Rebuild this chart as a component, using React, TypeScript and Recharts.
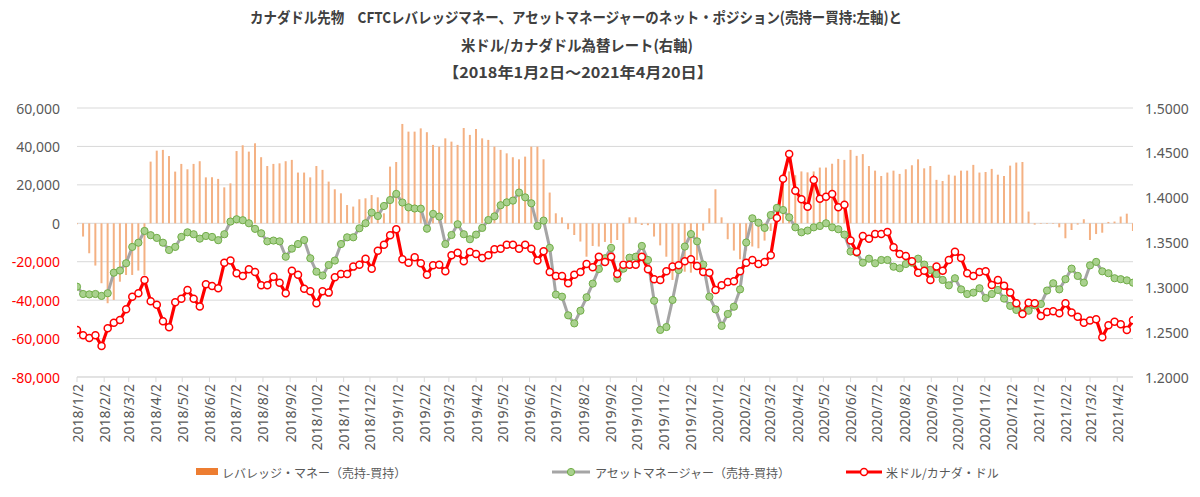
import React from 'react';
import { ComposedChart, Bar, Line, XAxis, YAxis, CartesianGrid } from 'recharts';

const NUM_FONT = '"Noto Sans", sans-serif';
const JP_FONT = '"Noto Sans CJK JP", "Noto Sans", sans-serif';

const startDate = '2018/1/2';

// CFTC leveraged money net position (short - long), weekly
const leverage = [
  -500, -6900, -15600, -22000, -31200, -41600, -39900, -30400, -26900, -26900,
  -24600, -26900, 32100, 37800, 38200, 35000, 26900, 30900, 28100, 30900,
  32300, 23900, 23900, 23100, 18700, 20800, 37600, 40600, 37300, 41600,
  34400, 29800, 30900, 31200, 32300, 33000, 26400, 26400, 23900, 29800,
  27800, 21700, 17700, 15600, 9500, 8700, 12500, 13000, 14700, 13500,
  5200, 29500, 31900, 51700, 47700, 47700, 49400, 47400, 40800, 39900,
  44200, 42500, 40800, 49600, 46000, 49100, 44200, 43400, 39900, 38200,
  36400, 34400, 33300, 34700, 39900, 39900, 33300, 16000, 5200, 3100,
  -3100, -6100, -9500, -17400, -11800, -12100, -9700, -10400, -8700, -19100,
  3100, 3100, -900, -1000, -6900, -11500, -17400, -29500, -26000, -25200,
  -25700, -19100, -3800, 7800, 17700, 3100, -8300, -14200, -18700, -14200,
  -12100, -13000, -9000, -4000, 7000, 24000, 27000, 25000, 27000, 26500,
  27000, 29000, 29000, 31000, 33500, 33000, 38200, 35100, 36000, 29800,
  27400, 24600, 26400, 27400, 25700, 28100, 30200, 33300, 28600, 29800,
  22600, 22000, 25300, 24800, 27400, 27400, 30400, 26400, 26700, 28300,
  25300, 24600, 30000, 31600, 31900, 6100, -700, -300, -300, -300,
  -2100, -7800, -3500, -700, 2100, -8700, -5600, -4900, 700, 900,
  3500, 5000, -4000,
];

// CFTC asset manager net position (short - long), weekly
const assetManager = [
  -33000, -36800, -37000, -36800, -37800, -36400, -25700, -24600, -20800, -12300,
  -10100, -4000, -6200, -7600, -10100, -13900, -12300, -7100, -4700, -5700,
  -8000, -6600, -7100, -8800, -5700, 900, 2100, 1600, 0, -2900,
  -5200, -9400, -9000, -9400, -17400, -13200, -10800, -8700, -18200, -25200,
  -27200, -21700, -19400, -10800, -7300, -7300, -2600, 0, 5600, 3800,
  9000, 12100, 15300, 10800, 8300, 7700, 7600, -2800, 4900, 3500,
  -10800, -6100, -500, -5700, -8300, -5900, -2400, 1700, 3600, 9400,
  10900, 11800, 16000, 13500, 10400, -1400, 1400, -12800, -37100, -38200,
  -47900, -52100, -45500, -38500, -31400, -23800, -18200, -12800, -28800, -23600,
  -17900, -17400, -11800, -19100, -40300, -55500, -54000, -39900, -24300, -12100,
  -5600, -9400, -21500, -38200, -44800, -53400, -47200, -43400, -34400, -10000,
  2600, 300, -2400, 4300, 8000, 6900, 3100, -2100, -4700, -3800,
  -2100, -1400, 0, -2100, -3100, -5900, -14700, -15300, -20500, -18400,
  -20800, -19100, -19100, -22600, -23400, -21200, -20500, -18400, -21500, -24300,
  -26400, -29500, -32300, -28600, -34400, -36800, -36100, -33800, -38900, -36800,
  -34700, -39200, -43000, -45100, -46800, -45500, -42700, -42000, -35000, -31200,
  -34400, -29100, -23600, -27400, -30900, -21900, -20100, -25000, -26000, -28600,
  -29100, -29700, -30900,
];

// USD/CAD rate, weekly
const usdcad = [
  1.2524, 1.2465, 1.2435, 1.2465, 1.2346, 1.2543, 1.2606, 1.2636, 1.2755, 1.2896,
  1.2933, 1.3082, 1.2844, 1.2807, 1.2621, 1.2554, 1.2833, 1.2874, 1.2971, 1.2874,
  1.2785, 1.3034, 1.3015, 1.2989, 1.3275, 1.3298, 1.3156, 1.3127, 1.3201, 1.3171,
  1.3023, 1.3023, 1.3119, 1.3052, 1.2933, 1.3186, 1.3141, 1.2985, 1.2956, 1.2822,
  1.2956, 1.2941, 1.3112, 1.3149, 1.3149, 1.3231, 1.3253, 1.332, 1.3208, 1.3409,
  1.3476, 1.358, 1.3647, 1.3312, 1.3275, 1.3335, 1.3268, 1.3141, 1.3246, 1.3253,
  1.3179, 1.3357, 1.3387, 1.329, 1.3394, 1.3372, 1.3327, 1.3357, 1.3424, 1.3431,
  1.3476, 1.3476, 1.3431, 1.3476, 1.3431, 1.3298, 1.3402, 1.3171, 1.3127, 1.3127,
  1.3045, 1.3141, 1.3171, 1.326, 1.3223, 1.3342, 1.3283, 1.3342, 1.3149, 1.3253,
  1.3253, 1.3253, 1.3342, 1.3201, 1.3089, 1.3082, 1.3179, 1.3231, 1.3246, 1.329,
  1.3312, 1.3238, 1.3171, 1.3164, 1.2971, 1.3023, 1.306, 1.3067, 1.3179, 1.3275,
  1.3305, 1.326, 1.3283, 1.3357, 1.3773, 1.4212, 1.4487, 1.4078, 1.3982, 1.39,
  1.4197, 1.3989, 1.4011, 1.4041, 1.3892, 1.3922, 1.3521, 1.3394, 1.3573, 1.3543,
  1.3595, 1.3595, 1.3617, 1.3446, 1.3372, 1.335, 1.329, 1.3164, 1.3186, 1.3082,
  1.3231, 1.3186, 1.3305, 1.3398, 1.3327, 1.3156, 1.3127, 1.3171, 1.3179, 1.3026,
  1.3082, 1.3019, 1.2941, 1.2822, 1.2703, 1.2829, 1.2822, 1.2681, 1.2725, 1.2733,
  1.271, 1.2822, 1.2718, 1.2673, 1.2606, 1.2629, 1.2643, 1.2443, 1.2577, 1.2617,
  1.2588, 1.2525, 1.2632,
];

const monthLabels = [
  '2018/1/2', '2018/2/2', '2018/3/2', '2018/4/2', '2018/5/2', '2018/6/2', '2018/7/2', '2018/8/2',
  '2018/9/2', '2018/10/2', '2018/11/2', '2018/12/2', '2019/1/2', '2019/2/2', '2019/3/2', '2019/4/2',
  '2019/5/2', '2019/6/2', '2019/7/2', '2019/8/2', '2019/9/2', '2019/10/2', '2019/11/2', '2019/12/2',
  '2020/1/2', '2020/2/2', '2020/3/2', '2020/4/2', '2020/5/2', '2020/6/2', '2020/7/2', '2020/8/2',
  '2020/9/2', '2020/10/2', '2020/11/2', '2020/12/2', '2021/1/2', '2021/2/2', '2021/3/2', '2021/4/2',
];

const leftTicks = [-80000, -60000, -40000, -20000, 0, 20000, 40000, 60000];
const rightTicks = [1.2, 1.25, 1.3, 1.35, 1.4, 1.45, 1.5];

const titleLines = [
  'カナダドル先物\u3000CFTCレバレッジマネー、アセットマネージャーのネット・ポジション(売持ー買持:左軸)と',
  '米ドル/カナダドル為替レート(右軸)',
  '【2018年1月2日～2021年4月20日】',
];

const legendLabels = ['レバレッジ・マネー（売持-買持）', 'アセットマネージャー（売持-買持）', '米ドル/カナダ・ドル'];

const parseDay = (s: string) => {
  const [y, m, d] = s.split('/').map(Number);
  return Date.UTC(y, m - 1, d) / 86400000;
};
const day0 = parseDay(startDate);
const data = leverage.map((v, i) => ({ x: i * 7, lev: v, am: assetManager[i], fx: usdcad[i] }));
const tickDays = monthLabels.map((s) => parseDay(s) - day0);
const lastDay = (leverage.length - 1) * 7;

const fmtThousands = (v: number) => {
  const s = Math.abs(v).toString().replace(/\B(?=(\d{3})+(?!\d))/g, ',');
  return v < 0 ? '-' + s : s;
};

const XTick = (props: any) => {
  const { x, y, payload } = props;
  const idx = tickDays.indexOf(payload.value);
  const label = idx >= 0 ? monthLabels[idx] : '';
  return (
    <text
      transform={`translate(${x},${y}) rotate(-90)`}
      textAnchor="end"
      dominantBaseline="central"
      fontSize={14}
      fontFamily={NUM_FONT}
      fill="#595959"
    >
      {label}
    </text>
  );
};

const LeftTick = (props: any) => {
  const { x, y, payload } = props;
  const v = payload.value as number;
  return (
    <text x={x} y={y} textAnchor="end" dominantBaseline="central" fontSize={14} fontFamily={NUM_FONT} fill={v < 0 ? '#FF0000' : '#595959'}>
      {fmtThousands(v)}
    </text>
  );
};

const RightTick = (props: any) => {
  const { x, y, payload } = props;
  return (
    <text x={x} y={y} textAnchor="start" dominantBaseline="central" fontSize={14} fontFamily={NUM_FONT} fill="#595959">
      {(payload.value as number).toFixed(4)}
    </text>
  );
};

export default function App() {
  return (
    <div style={{ position: 'absolute', left: 0, top: 0, width: 1200, height: 497, background: '#FFFFFF' }}>
      <svg width={1200} height={90} style={{ position: 'absolute', left: 0, top: 0 }}>
        <text x={576} y={23} textAnchor="middle" fontSize={15} fontWeight="bold" fontFamily={JP_FONT} fill="#404040" textLength={652} lengthAdjust="spacingAndGlyphs">
          {titleLines[0]}
        </text>
        <text x={577} y={51} textAnchor="middle" fontSize={15} fontWeight="bold" fontFamily={JP_FONT} fill="#404040" textLength={232} lengthAdjust="spacingAndGlyphs">
          {titleLines[1]}
        </text>
        <text x={578} y={78} textAnchor="middle" fontSize={15} fontWeight="bold" fontFamily={JP_FONT} fill="#404040" textLength={270} lengthAdjust="spacingAndGlyphs">
          {titleLines[2]}
        </text>
      </svg>
      <div style={{ position: 'absolute', left: 0, top: 0 }}>
        <ComposedChart width={1200} height={497} data={data} margin={{ top: 108, right: 7, bottom: 60, left: 0 }}>
          <CartesianGrid yAxisId="left" vertical={false} stroke="#D9D9D9" />
          <XAxis
            type="number"
            dataKey="x"
            domain={[0, lastDay]}
            ticks={tickDays}
            interval={0}
            height={60}
            tick={(p: any) => <XTick {...p} />}
            tickSize={5}
            tickMargin={2}
            tickLine={{ stroke: '#D9D9D9' }}
            axisLine={{ stroke: '#D9D9D9' }}
            allowDataOverflow
          />
          <YAxis
            yAxisId="left"
            domain={[-80000, 60000]}
            ticks={leftTicks}
            interval={0}
            width={77}
            axisLine={false}
            tickLine={false}
            tickSize={8}
            tickMargin={9}
            tick={(p: any) => <LeftTick {...p} />}
            allowDataOverflow
          />
          <YAxis
            yAxisId="right"
            orientation="right"
            domain={[1.2, 1.5]}
            ticks={rightTicks}
            interval={0}
            width={60}
            axisLine={false}
            tickLine={false}
            tickSize={4}
            tickMargin={8}
            tick={(p: any) => <RightTick {...p} />}
            allowDataOverflow
          />
          <Bar yAxisId="left" dataKey="lev" fill="#F4B183" barSize={2} isAnimationActive={false} />
          <Line
            yAxisId="left"
            dataKey="am"
            stroke="#A5A5A5"
            strokeWidth={3}
            dot={{ r: 3.6, fill: '#A9D18E', stroke: '#70AD47', strokeWidth: 1 }}
            activeDot={false}
            isAnimationActive={false}
          />
          <Line
            yAxisId="right"
            dataKey="fx"
            stroke="#FF0000"
            strokeWidth={3.2}
            dot={{ r: 3.5, fill: '#FFFFFF', stroke: '#FF0000', strokeWidth: 1.5 }}
            activeDot={false}
            isAnimationActive={false}
          />
        </ComposedChart>
      </div>
      <svg width={1200} height={40} style={{ position: 'absolute', left: 0, top: 455 }}>
        <rect x={196} y={13} width={22} height={7} fill="#ED7D31" />
        <text x={222} y={17} dominantBaseline="central" fontSize={12} fontFamily={JP_FONT} fill="#595959">
          {legendLabels[0]}
        </text>
        <line x1={552} x2={590} y1={17} y2={17} stroke="#A5A5A5" strokeWidth={3} />
        <circle cx={571} cy={17} r={3.6} fill="#A9D18E" stroke="#70AD47" strokeWidth={1} />
        <text x={595} y={17} dominantBaseline="central" fontSize={12} fontFamily={JP_FONT} fill="#595959">
          {legendLabels[1]}
        </text>
        <line x1={846} x2={882} y1={17} y2={17} stroke="#FF0000" strokeWidth={3.2} />
        <circle cx={864} cy={17} r={3.5} fill="#FFFFFF" stroke="#FF0000" strokeWidth={1.5} />
        <text x={886} y={17} dominantBaseline="central" fontSize={12} fontFamily={JP_FONT} fill="#595959">
          {legendLabels[2]}
        </text>
      </svg>
    </div>
  );
}
